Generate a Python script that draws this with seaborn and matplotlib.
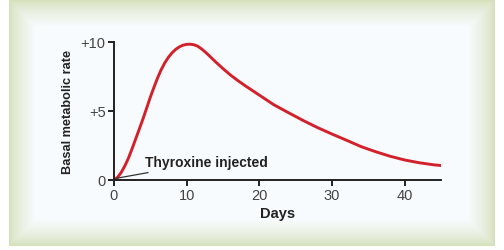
import numpy as np
import pandas as pd
import matplotlib
matplotlib.use("Agg")
import matplotlib.pyplot as plt
import seaborn as sns

# Data
days = [0, 0.5, 1, 1.5, 2, 2.5, 3, 3.5, 4, 4.5, 5, 5.5, 6, 6.5, 7, 7.5, 8, 8.5, 9, 9.5, 10, 10.5, 11, 11.5, 12, 12.5, 13, 14, 15, 16, 17, 18, 19, 20, 22, 24, 26, 28, 30, 32, 34, 36, 38, 40, 42, 44, 45]
bmr = [0, 0.2, 0.55, 1.03, 1.6, 2.28, 3.0, 3.72, 4.45, 5.22, 6.0, 6.72, 7.4, 8.0, 8.5, 8.9, 9.22, 9.47, 9.65, 9.77, 9.83, 9.84, 9.8, 9.7, 9.52, 9.3, 9.06, 8.55, 8.07, 7.62, 7.22, 6.85, 6.5, 6.15, 5.45, 4.88, 4.32, 3.8, 3.33, 2.88, 2.42, 2.05, 1.72, 1.45, 1.25, 1.1, 1.05]
x_ticks = [0, 10, 20, 30, 40]
y_ticks = [0, 5, 10]
y_tick_labels = ["0", "+5", "+10"]

df = pd.DataFrame({"Days": days, "Basal metabolic rate": bmr})

sns.set_theme(style="white")
plt.rcParams["font.family"] = ["Liberation Sans", "DejaVu Sans"]

W, H = 504, 251
fig = plt.figure(figsize=(W / 100, H / 100), dpi=100)

# Decorative framed background
bg = fig.add_axes([0, 0, 1, 1])
bg.set_axis_off()
yy, xx = np.mgrid[0:H, 0:W]
x0, x1, y0, y1 = 9, 494, 1, 246
inside = (xx >= x0) & (xx <= x1) & (yy >= y0) & (yy <= y1)
d = np.minimum.reduce([xx - x0, x1 - xx, yy - y0, y1 - yy]).astype(float)
t = np.clip(d / 26.0, 0, 1) ** 0.7
green = np.array([212, 224, 186]) / 255
inner = np.array([248, 251, 253]) / 255
img = green[None, None, :] * (1 - t[..., None]) + inner[None, None, :] * t[..., None]
img[~inside] = 1.0
bg.imshow(img, extent=[0, 1, 0, 1], aspect="auto", transform=bg.transAxes)

ax = fig.add_axes([114 / W, 1 - 181 / H, (441 - 114) / W, (181 - 43) / H])
ax.patch.set_alpha(0)
sns.lineplot(data=df, x="Days", y="Basal metabolic rate", ax=ax,
             color="#d3212b", linewidth=2.1, solid_joinstyle="round", solid_capstyle="round")

ax.set_xlim(0, 45)
ax.set_ylim(0, 10)
ax.set_xticks(x_ticks)
ax.set_yticks(y_ticks)
ax.set_yticklabels(y_tick_labels)
for s in ["top", "right"]:
    ax.spines[s].set_visible(False)
for s in ["left", "bottom"]:
    ax.spines[s].set_color("#222222")
    ax.spines[s].set_linewidth(1.4)
ax.tick_params(axis="both", direction="out", length=4, width=1.4, color="#222222",
               labelsize=10.5, labelcolor="#444444", pad=2, bottom=True, left=True)
ax.set_xlabel("Days", fontsize=10.5, fontweight="bold", color="#222222", labelpad=3)
ax.set_ylabel("Basal metabolic rate", fontsize=9.2, fontweight="bold", color="#222222", labelpad=5)

ax.annotate("Thyroxine injected", xy=(0.3, 0.12), xytext=(4.25, 1.3),
            fontsize=10, fontweight="bold", color="#222222", va="center", ha="left",
            arrowprops=dict(arrowstyle="-", color="#333333", lw=0.9, shrinkA=1, shrinkB=0))

fig.savefig("out.png", dpi=100)
